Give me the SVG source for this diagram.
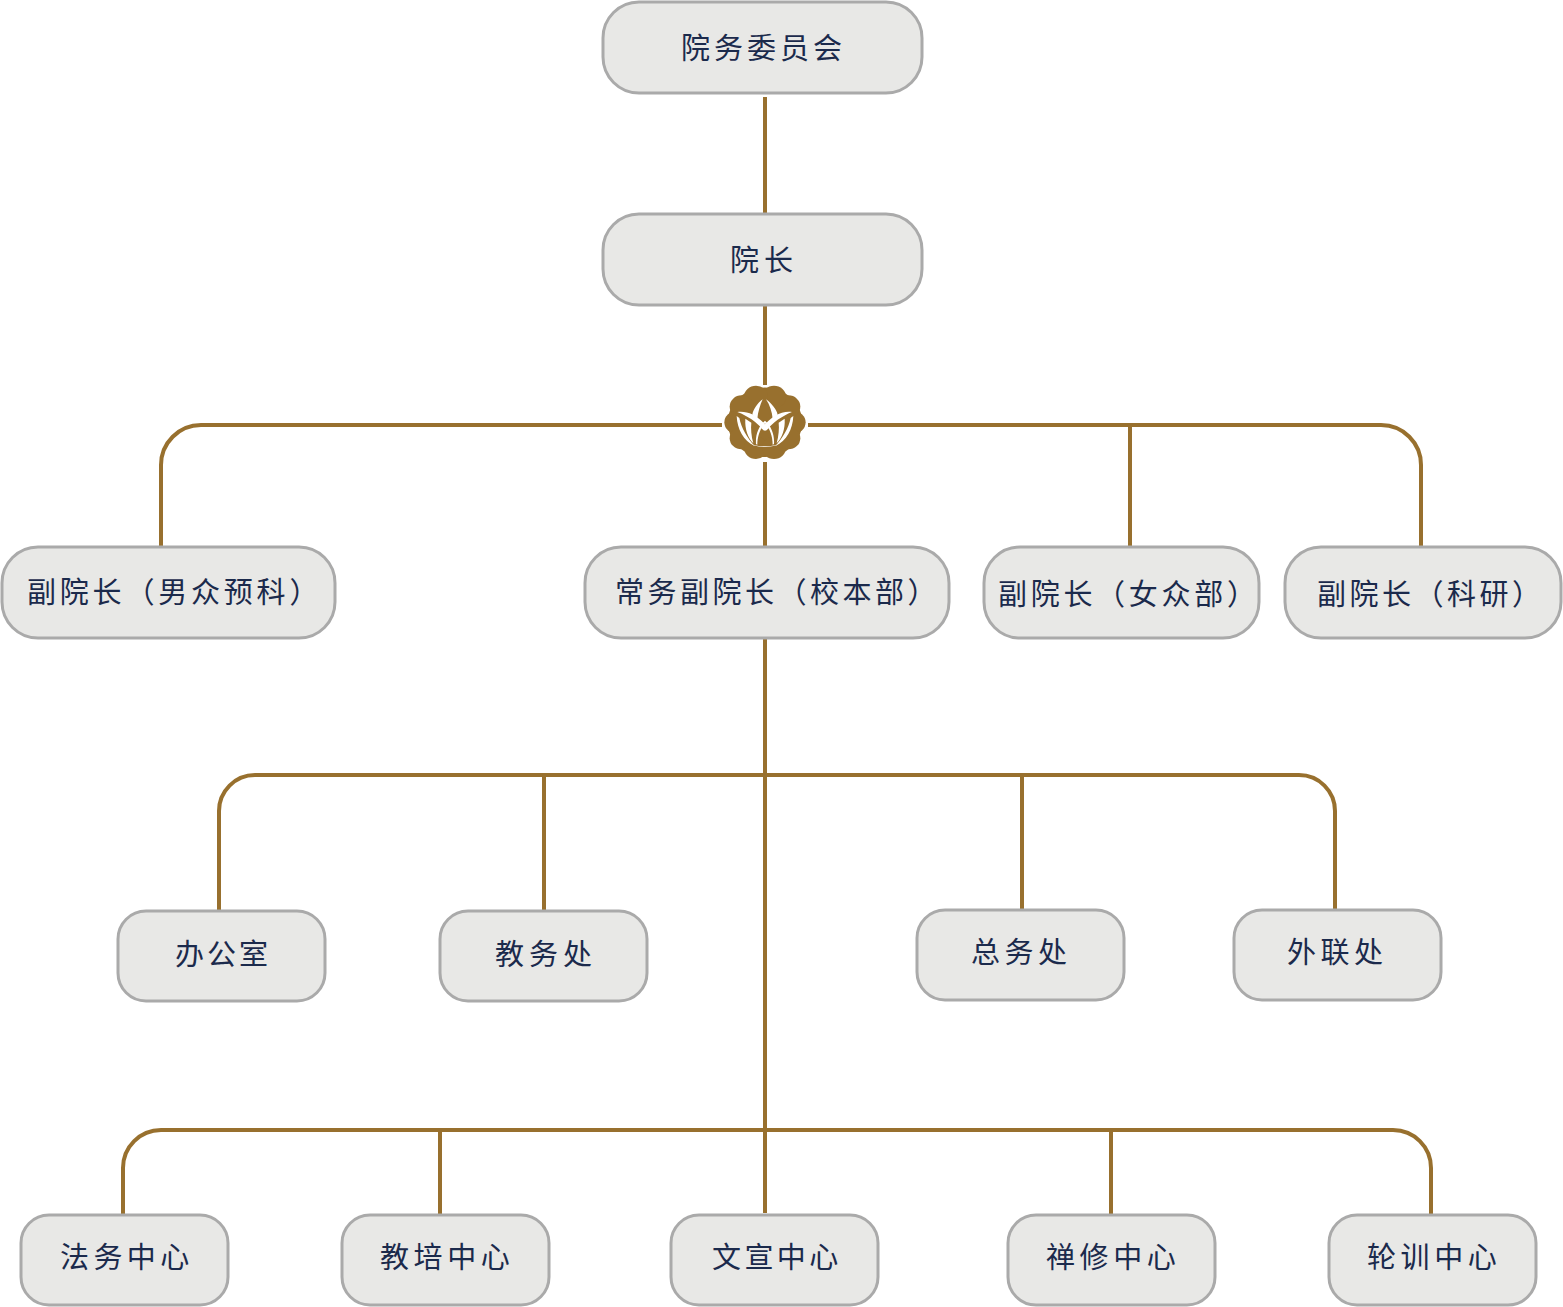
<svg xmlns="http://www.w3.org/2000/svg" width="1563" height="1307" viewBox="0 0 1563 1307">
<style>
.n{fill:#e8e8e6;stroke:#aaaaaa;stroke-width:3}
.t{font-family:"Noto Sans CJK SC","Noto Sans",sans-serif;font-size:29px;fill:#1b2a4c}
.c{fill:none;stroke:#98702e;stroke-width:4}
.logo{fill:#98702e}
.petal{fill:#ffffff}
</style>
<rect width="1563" height="1307" fill="#ffffff"/>
<g id="connectors">
<path class="c" d="M765 97V213M765 305V385M765 462V1213"/>
<path class="c" d="M161 546V465A40 40 0 0 1 201 425H722"/>
<path class="c" d="M808 425H1381A40 40 0 0 1 1421 465V546M1130 425V546"/>
<path class="c" d="M219 910V811A36 36 0 0 1 255 775H1299A36 36 0 0 1 1335 811V910M544 775V910M1022 775V910"/>
<path class="c" d="M123 1214V1168A38 38 0 0 1 161 1130H1393A38 38 0 0 1 1431 1168V1214M440 1130V1214M1111 1130V1214"/>
</g>
<g id="logo" transform="translate(700 370) scale(0.3333)">
<g class="logo" transform="translate(195 157) scale(1 0.93)">
<circle r="112"/>
<circle cx="86" cy="0" r="36"/><circle cx="70" cy="-51" r="36"/><circle cx="27" cy="-82" r="36"/><circle cx="-27" cy="-82" r="36"/><circle cx="-70" cy="-51" r="36"/>
<circle cx="-86" cy="0" r="36"/><circle cx="-70" cy="51" r="36"/><circle cx="-27" cy="82" r="36"/><circle cx="27" cy="82" r="36"/><circle cx="70" cy="51" r="36"/>
</g>
<path class="petal" d="M188 88C172 100 160 118 157 134L172 146C174 126 180 106 188 88Z"/>
<path class="petal" d="M198 88C214 100 230 118 233 134L218 146C216 126 210 106 198 88Z"/>
<path class="petal" d="M112 126C146 122 176 138 206 176L192 182C170 156 144 138 112 126Z"/>
<path class="petal" d="M276 126C244 122 214 138 184 176L198 182C220 156 246 138 276 126Z"/>
<path class="petal" d="M110 138C112 178 130 212 164 228C142 204 124 174 118 144Z"/>
<path class="petal" d="M280 138C278 178 260 212 226 228C248 204 266 174 272 144Z"/>
<path class="petal" d="M136 146C134 178 144 204 160 220C154 198 152 176 154 158Z"/>
<path class="petal" d="M254 146C256 178 246 204 230 220C236 198 238 176 236 158Z"/>
<path class="petal" d="M195 152C176 168 166 194 168 222L172 224C172 200 180 176 195 160C210 176 218 200 218 224L222 222C224 194 214 168 195 152Z"/>
<path class="petal" d="M160 224Q195 234 230 224L230 226Q195 236 160 226Z"/>
</g>
<g id="n1"><rect class="n" x="603" y="2" width="319" height="91" rx="36"/><text class="t" x="681" y="59" letter-spacing="4">院务委员会</text></g>
<g id="n2"><rect class="n" x="603" y="214" width="319" height="91" rx="36"/><text class="t" x="730" y="271" letter-spacing="5">院长</text></g>
<g id="n3"><rect class="n" x="2" y="547" width="333" height="91" rx="36"/><text class="t" x="27" y="603" letter-spacing="3.8">副院长（男众预科）</text></g>
<g id="n4"><rect class="n" x="585" y="547" width="364" height="91" rx="36"/><text class="t" x="615" y="603" letter-spacing="3.5">常务副院长（校本部）</text></g>
<g id="n5"><rect class="n" x="984" y="547" width="275" height="91" rx="36"/><text class="t" x="998" y="605" letter-spacing="3.7">副院长（女众部）</text></g>
<g id="n6"><rect class="n" x="1285" y="547" width="276" height="91" rx="36"/><text class="t" x="1317" y="605" letter-spacing="3.5">副院长（科研）</text></g>
<g id="n7"><rect class="n" x="118" y="911" width="207" height="90" rx="28"/><text class="t" x="175" y="965" letter-spacing="3">办公室</text></g>
<g id="n8"><rect class="n" x="440" y="911" width="207" height="90" rx="28"/><text class="t" x="495" y="965" letter-spacing="5">教务处</text></g>
<g id="n9"><rect class="n" x="917" y="910" width="207" height="90" rx="28"/><text class="t" x="971" y="963" letter-spacing="4.5">总务处</text></g>
<g id="n10"><rect class="n" x="1234" y="910" width="207" height="90" rx="28"/><text class="t" x="1287" y="963" letter-spacing="4.5">外联处</text></g>
<g id="n11"><rect class="n" x="21" y="1215" width="207" height="90" rx="28"/><text class="t" x="60" y="1268" letter-spacing="4.4">法务中心</text></g>
<g id="n12"><rect class="n" x="342" y="1215" width="207" height="90" rx="28"/><text class="t" x="380" y="1268" letter-spacing="4.6">教培中心</text></g>
<g id="n13"><rect class="n" x="671" y="1215" width="207" height="90" rx="28"/><text class="t" x="712" y="1268" letter-spacing="3.4">文宣中心</text></g>
<g id="n14"><rect class="n" x="1008" y="1215" width="207" height="90" rx="28"/><text class="t" x="1046" y="1268" letter-spacing="4.6">禅修中心</text></g>
<g id="n15"><rect class="n" x="1329" y="1215" width="207" height="90" rx="28"/><text class="t" x="1367" y="1268" letter-spacing="4.6">轮训中心</text></g>
</svg>
